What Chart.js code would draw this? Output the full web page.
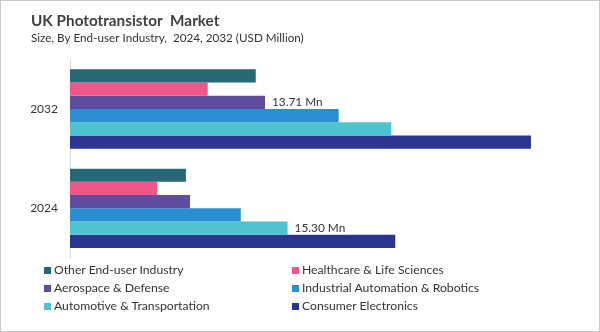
<!DOCTYPE html>
<html>
<head>
<meta charset="utf-8">
<script src="https://cdn.jsdelivr.net/npm/chart.js@4/dist/chart.umd.min.js"></script>
<style>
  body { margin: 0; background: #fff; }
  #wrap { position: relative; width: 600px; height: 332px; }
  #frame { position: absolute; left: 0; top: 0; width: 600px; height: 332px; box-sizing: border-box; border: 1px solid #c9c9c9; pointer-events: none; }
  #legend { position: absolute; left: 44px; top: 261px; display: grid; grid-template-columns: 248px 260px; row-gap: 0; font-family: Lato, sans-serif; font-size: 12.2px; color: #333; }
  #legend div { height: 18px; line-height: 18px; white-space: nowrap; display: flex; align-items: center; }
  #legend span.box { display: inline-block; width: 7px; height: 7px; margin-right: 3px; }
</style>
</head>
<body>
<div id="wrap">
  <canvas id="market" width="600" height="332"></canvas>
  <div id="legend"></div>
  <div id="frame"></div>
</div>
<script>
const years = ["2032", "2024"];
const industries = [
  "Other End-user Industry",
  "Healthcare & Life Sciences",
  "Aerospace & Defense",
  "Industrial Automation & Robotics",
  "Automotive & Transportation",
  "Consumer Electronics"
];
const colors = ["#266876", "#ef5689", "#5f4c9f", "#2a8fd1", "#4ec3d0", "#29358f"];

// values per industry, [2032, 2024], USD million
const otherIndustry = [13.06, 8.15];
const healthcare = [9.68, 6.14];
const aerospace = [13.71, 8.44];
const industrialAutomation = [18.89, 12.01];
const automotive = [22.59, 15.30];
const consumerElectronics = [32.41, 22.87];

// bars that get a value label: [dataset index, year index]
const labelledBars = [[2, 0], [4, 1]];

const series = [otherIndustry, healthcare, aerospace, industrialAutomation, automotive, consumerElectronics];

const valueLabels = {
  id: "valueLabels",
  afterDatasetsDraw(chart) {
    const ctx = chart.ctx;
    ctx.save();
    ctx.font = "11.8px Lato, sans-serif";
    ctx.textBaseline = "middle";
    labelledBars.forEach(([ds, i]) => {
      const bar = chart.getDatasetMeta(ds).data[i];
      const text = chart.data.datasets[ds].data[i].toFixed(2) + " Mn";
      const w = ctx.measureText(text).width;
      ctx.fillStyle = "#fff";
      ctx.fillRect(bar.x + 1, bar.y - 7, w + 10, 13);
      ctx.fillStyle = "#333";
      ctx.fillText(text, bar.x + 7, bar.y);
    });
    ctx.restore();
  }
};

const chart = new Chart(document.getElementById("market"), {
  type: "bar",
  data: {
    labels: years,
    datasets: industries.map((name, k) => ({
      label: name,
      data: series[k],
      backgroundColor: colors[k],
      borderWidth: 0,
      categoryPercentage: 0.8,
      barPercentage: 1
    }))
  },
  options: {
    indexAxis: "y",
    responsive: false,
    animation: false,
    layout: { padding: { left: 31, right: 18, top: 0, bottom: 74 } },
    scales: {
      x: {
        display: false,
        min: 0,
        max: 36
      },
      y: {
        grid: { display: false, drawTicks: false },
        border: { display: true, color: "#d9d9d9", width: 1 },
        ticks: { color: "#333", padding: 12, font: { family: "Lato", size: 12 } },
        afterFit(scale) { scale.width = 39; }
      }
    },
    plugins: {
      legend: { display: false },
      tooltip: { enabled: false },
      title: {
        display: true,
        text: "UK Phototransistor  Market",
        align: "start",
        color: "#404040",
        font: { family: "Lato", size: 15.3, weight: "bold" },
        padding: { top: 12, bottom: 0 }
      },
      subtitle: {
        display: true,
        text: "Size, By End-user Industry,  2024, 2032 (USD Million)",
        align: "start",
        color: "#333",
        font: { family: "Lato", size: 11.7 },
        padding: { top: 1, bottom: 14 }
      }
    }
  },
  plugins: [valueLabels]
});

// two-column legend under the plot
const legend = document.getElementById("legend");
chart.data.datasets.forEach(ds => {
  const item = document.createElement("div");
  const box = document.createElement("span");
  box.className = "box";
  box.style.background = ds.backgroundColor;
  item.appendChild(box);
  item.appendChild(document.createTextNode(ds.label));
  legend.appendChild(item);
});
</script>
</body>
</html>
